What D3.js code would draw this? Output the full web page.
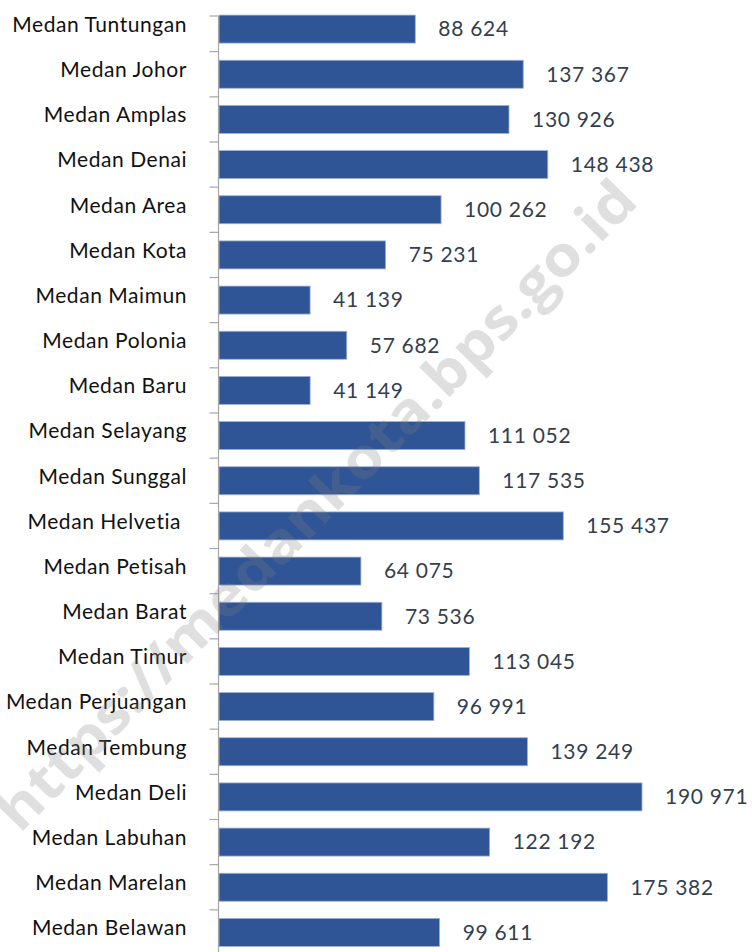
<!DOCTYPE html>
<html>
<head>
<meta charset="utf-8">
<script src="https://cdn.jsdelivr.net/npm/d3@7"></script>
<style>
  html, body { margin: 0; padding: 0; background: #fff; }
  svg { display: block; }
</style>
</head>
<body>
<div id="chart"></div>
<script>
// Kecamatan di Kota Medan, urutan dari atas ke bawah
const kecamatan = [
    "Medan Tuntungan", "Medan Johor", "Medan Amplas", "Medan Denai",
    "Medan Area", "Medan Kota", "Medan Maimun", "Medan Polonia",
    "Medan Baru", "Medan Selayang", "Medan Sunggal", "Medan Helvetia ",
    "Medan Petisah", "Medan Barat", "Medan Timur", "Medan Perjuangan",
    "Medan Tembung", "Medan Deli", "Medan Labuhan", "Medan Marelan",
    "Medan Belawan"
];

const nilai = [
    88624, 137367, 130926, 148438,
    100262, 75231, 41139, 57682,
    41149, 111052, 117535, 155437,
    64075, 73536, 113045, 96991,
    139249, 190971, 122192, 175382,
    99611
];

const watermark = "https://medankota.bps.go.id";

function drawChart() {
    const width = 752;
    const height = 952;
    const axisX = 218.5;
    const axisTop = 16;

    const svg = d3.select('#chart')
        .append('svg')
        .attr('width', width)
        .attr('height', height);

    const y = d3.scaleBand()
        .domain(kecamatan)
        .range([6.5, 955])
        .paddingInner(0.38)
        .paddingOuter(0.19);

    const x = d3.scaleLinear()
        .domain([0, d3.max(nilai)])
        .range([axisX + 0.5, 642]);

    const data = kecamatan.map((k, i) => ({ name: k, value: nilai[i] }));

    // Batang
    svg.selectAll('.bar')
        .data(data)
        .enter()
        .append('rect')
        .attr('class', 'bar')
        .attr('x', x(0))
        .attr('y', d => y(d.name))
        .attr('width', d => x(d.value) - x(0))
        .attr('height', y.bandwidth())
        .attr('fill', '#2f5596')
        .attr('stroke', '#9fb2d6')
        .attr('stroke-width', 0.8);

    // Sumbu vertikal dengan tick di batas kategori
    const axis = svg.append('g');
    axis.append('line')
        .attr('x1', axisX).attr('x2', axisX)
        .attr('y1', axisTop).attr('y2', height)
        .attr('stroke', '#a6a6a6')
        .attr('stroke-width', 1.2);

    const step = y.step();
    const bounds = [axisTop].concat(kecamatan.slice(1).map(k => y(k) - (step - y.bandwidth()) / 2));
    axis.selectAll('.tick')
        .data(bounds)
        .enter()
        .append('line')
        .attr('x1', axisX - 9).attr('x2', axisX)
        .attr('y1', d => d).attr('y2', d => d)
        .attr('stroke', '#a6a6a6')
        .attr('stroke-width', 1.2);

    // Label kategori
    svg.selectAll('.cat')
        .data(data)
        .enter()
        .append('text')
        .attr('class', 'cat')
        .attr('x', 187)
        .attr('y', d => y(d.name) + y.bandwidth() / 2 - 4.5)
        .attr('dy', '0.35em')
        .attr('text-anchor', 'end')
        .style('white-space', 'pre')
        .attr('font-family', 'Lato, "Open Sans", sans-serif')
        .attr('font-size', '21px')
        .attr('letter-spacing', '0.55px')
        .attr('fill', '#111')
        .text(d => d.name);

    // Label nilai
    const fmt = v => d3.format(',')(v).replace(/,/g, ' ');
    svg.selectAll('.val')
        .data(data)
        .enter()
        .append('text')
        .attr('class', 'val')
        .attr('x', d => x(d.value) + 23)
        .attr('y', d => y(d.name) + y.bandwidth() / 2)
        .attr('dy', '0.35em')
        .attr('font-family', 'Lato, "Open Sans", sans-serif')
        .attr('font-size', '21px')
        .attr('letter-spacing', '0.7px')
        .attr('fill', '#333f50')
        .text(d => fmt(d.value));

    // Watermark
    svg.append('text')
        .attr('transform', 'translate(316, 505) rotate(-45.5)')
        .attr('text-anchor', 'middle')
        .attr('dy', '0.35em')
        .attr('font-family', '"Open Sans", "DejaVu Sans", sans-serif')
        .attr('font-weight', 'bold')
        .attr('font-size', '56px')
        .attr('fill', '#808080')
        .attr('fill-opacity', 0.25)
        .attr('textLength', 885)
        .attr('lengthAdjust', 'spacingAndGlyphs')
        .text(watermark);
}

document.addEventListener('DOMContentLoaded', drawChart);
</script>
</body>
</html>
